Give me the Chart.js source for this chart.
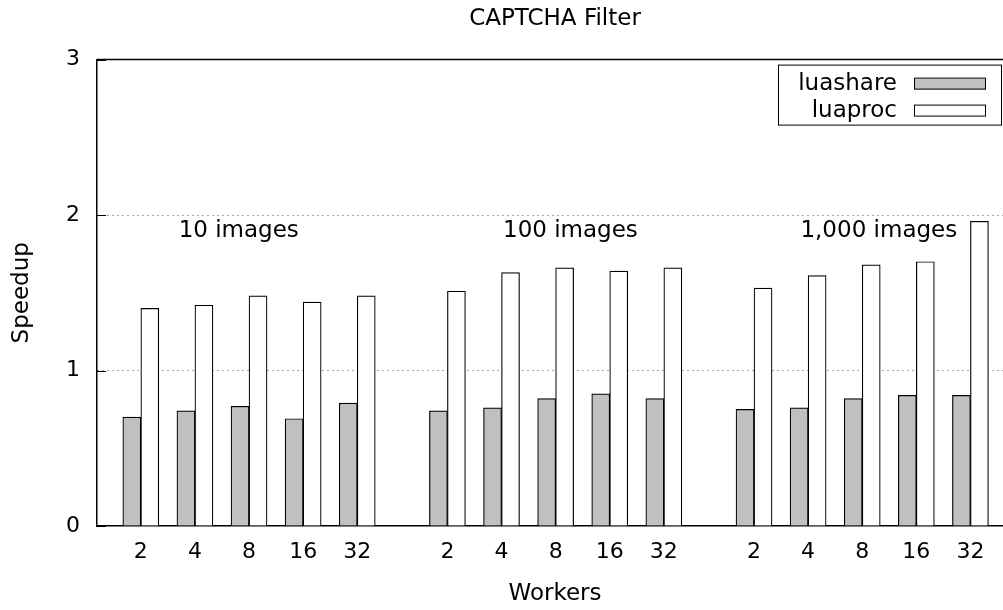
<!DOCTYPE html>
<html>
<head>
<meta charset="utf-8">
<script src="https://cdn.jsdelivr.net/npm/chart.js@4"></script>
<style>
  html, body { margin: 0; padding: 0; overflow: hidden; background: #fff; }
</style>
</head>
<body>
<canvas id="chart" width="1013" height="610"></canvas>
<script>
// data
const workers = ['2', '4', '8', '16', '32'];
const groupLabels = ['10 images', '100 images', '1,000 images'];
const luashare = [0.70, 0.74, 0.77, 0.69, 0.79, 0.74, 0.76, 0.82, 0.85, 0.82, 0.75, 0.76, 0.82, 0.84, 0.84];
const luaproc = [1.40, 1.42, 1.48, 1.44, 1.48, 1.51, 1.63, 1.66, 1.64, 1.66, 1.53, 1.61, 1.68, 1.70, 1.96];
const yTicks = [0, 1, 2, 3];

// layout: extra space between groups, in slots
const groupGap = 2 / 3;
const slotOf = i => Math.floor(i / workers.length) * (workers.length + groupGap) + (i % workers.length);
const slots = luashare.map((v, i) => slotOf(i));
const groupLabelSlot = [1.81, 7.94, 13.64]; // where the group captions sit
const groupLabelValue = 1.9;

Chart.defaults.font.family = "'DejaVu Sans', sans-serif";
Chart.defaults.color = '#000';

const plotFrame = {
    id: 'plotFrame',
    afterDraw(chart) {
        const ctx = chart.ctx;
        const area = chart.chartArea;
        const y = chart.scales.y;
        const x = chart.scales.x;
        ctx.save();
        // top border
        ctx.strokeStyle = '#000';
        ctx.lineWidth = 1.5;
        ctx.beginPath();
        ctx.moveTo(area.left, area.top);
        ctx.lineTo(area.right, area.top);
        ctx.stroke();
        // inner tick marks on the y axis
        ctx.lineWidth = 1;
        yTicks.forEach(v => {
            const py = Math.round(y.getPixelForValue(v)) + 0.5;
            ctx.beginPath();
            ctx.moveTo(area.left, py);
            ctx.lineTo(area.left + 9, py);
            ctx.stroke();
        });
        // group captions
        ctx.font = "23px 'DejaVu Sans'";
        ctx.fillStyle = '#000';
        ctx.textAlign = 'center';
        ctx.textBaseline = 'middle';
        groupLabels.forEach((t, i) => {
            ctx.fillText(t, x.getPixelForValue(groupLabelSlot[i]), y.getPixelForValue(groupLabelValue));
        });
        // legend box
        const bx = area.right - 235, by = area.top + 5;
        ctx.lineWidth = 1;
        ctx.strokeStyle = '#000';
        ctx.strokeRect(bx + 0.5, by + 0.5, 223, 60);
        chart.data.datasets.forEach((ds, i) => {
            const cy = by + 19 + i * 27;
            ctx.textAlign = 'right';
            ctx.fillStyle = '#000';
            ctx.fillText(ds.label, bx + 119, cy);
            ctx.fillStyle = ds.backgroundColor;
            ctx.fillRect(bx + 136, cy - 5, 71, 11);
            ctx.strokeRect(bx + 136.5, cy - 5.5, 71, 11);
        });
        ctx.restore();
    }
};

const ctx = document.getElementById('chart').getContext('2d');
new Chart(ctx, {
    type: 'bar',
    data: {
        datasets: [{
            label: 'luashare',
            data: luashare.map((v, i) => ({ x: slots[i], y: v })),
            backgroundColor: '#c0c0c0',
            borderColor: '#000',
            borderWidth: 1.2
        }, {
            label: 'luaproc',
            data: luaproc.map((v, i) => ({ x: slots[i], y: v })),
            backgroundColor: '#ffffff',
            borderColor: '#000',
            borderWidth: 1.2
        }]
    },
    options: {
        responsive: false,
        animation: false,
        barThickness: 18,
        layout: { padding: 0 },
        plugins: {
            legend: { display: false },
            tooltip: { enabled: false },
            title: {
                display: true,
                text: 'CAPTCHA Filter',
                fullSize: false,
                font: { size: 23, weight: 'normal' },
                padding: { top: 5, bottom: 27 }
            }
        },
        scales: {
            x: {
                type: 'linear',
                min: -0.81,
                max: 16.12,
                offset: false,
                grid: { display: false, drawTicks: false, offset: false },
                border: { display: true, color: '#000', width: 1.5 },
                afterBuildTicks: s => { s.ticks = slots.map(v => ({ value: v })); },
                afterFit: s => { s.height = 84; },
                ticks: {
                    autoSkip: false,
                    maxRotation: 0,
                    padding: 13,
                    font: { size: 22 },
                    callback: (value, index) => workers[index % workers.length]
                },
                title: {
                    display: true,
                    text: 'Workers',
                    font: { size: 23 },
                    padding: { top: 0, bottom: 2 }
                }
            },
            y: {
                min: 0,
                max: 3,
                afterBuildTicks: s => { s.ticks = yTicks.map(v => ({ value: v })); },
                afterFit: s => { s.width = 97; },
                grid: {
                    drawTicks: false,
                    color: c => (c.tick && c.tick.value > 0 && c.tick.value < 3) ? '#4a4a4a' : 'rgba(0,0,0,0)',
                    lineWidth: 1
                },
                border: { display: true, color: '#000', width: 1.5, dash: [1, 4] },
                ticks: { padding: 17, font: { size: 22 } },
                title: {
                    display: true,
                    text: 'Speedup',
                    font: { size: 23 },
                    padding: { top: 8, bottom: 0 }
                }
            }
        }
    },
    plugins: [plotFrame]
});
</script>
</body>
</html>
